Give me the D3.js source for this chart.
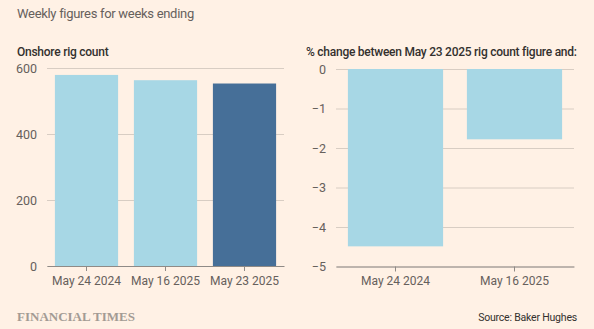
<!DOCTYPE html>
<html>
<head>
<meta charset="utf-8">
<script src="https://d3js.org/d3.v7.min.js"></script>
<style>
  body { margin: 0; background: #fff1e5; }
  svg { display: block; font-family: Roboto, sans-serif; }
</style>
</head>
<body>
<div id="chart"></div>
<script>
// Onshore rig count, weekly figures
const weeks = ["May 24 2024", "May 16 2025", "May 23 2025"];
const rigCounts = [579, 563, 553];
const countTicks = [0, 200, 400, 600];

// % change versus the latest week
const changeWeeks = ["May 24 2024", "May 16 2025"];
const pctChange = [-4.49, -1.78];
const changeTicks = [0, -1, -2, -3, -4, -5];

const W = 594, H = 329;
const lightBlue = "#a7d7e5", darkBlue = "#466f98";
const gridCol = "#d8cdc3", axisCol = "#8f8a86", textCol = "#66605c";

const svg = d3.select("#chart").append("svg")
  .attr("width", W).attr("height", H);

svg.append("rect").attr("width", W).attr("height", H).attr("fill", "#fff1e5");

svg.append("text")
  .attr("x", 17).attr("y", 18)
  .attr("font-size", 13).attr("letter-spacing", -0.3).attr("fill", textCol)
  .text("Weekly figures for weeks ending");

function styleTicks(g, size) {
  g.selectAll(".tick text")
    .attr("fill", textCol)
    .attr("font-size", size)
    .attr("font-family", "Roboto, sans-serif");
}

// Left panel: rig count
const left = { x0: 47, x1: 284, y0: 266, y1: 68 };

svg.append("text")
  .attr("x", 17).attr("y", 56)
  .attr("font-size", 12).attr("font-weight", 500).attr("letter-spacing", -0.25)
  .attr("fill", "#33302e")
  .text("Onshore rig count");

const xL = d3.scaleBand().domain(weeks).range([left.x0, left.x1])
  .paddingInner(0.2).paddingOuter(0.1);
const yL = d3.scaleLinear().domain([0, 600]).range([left.y0, left.y1]);

const gL = svg.append("g");

gL.append("g")
  .attr("transform", `translate(${left.x0},0)`)
  .call(d3.axisLeft(yL).tickValues(countTicks).tickSize(-(left.x1 - left.x0)).tickPadding(10))
  .call(g => g.select(".domain").remove())
  .call(g => g.selectAll(".tick line").attr("stroke", gridCol))
  .call(g => styleTicks(g, 12.5));

gL.selectAll(".bar")
  .data(rigCounts)
  .enter().append("rect")
  .attr("class", "bar")
  .attr("x", (d, i) => xL(weeks[i]))
  .attr("width", xL.bandwidth())
  .attr("y", d => yL(d))
  .attr("height", d => yL(0) - yL(d))
  .attr("fill", (d, i) => i === weeks.length - 1 ? darkBlue : lightBlue);

gL.append("g")
  .attr("transform", `translate(0,${left.y0})`)
  .call(d3.axisBottom(xL).tickSize(5).tickPadding(5).tickSizeOuter(0))
  .call(g => g.select(".domain").attr("stroke", axisCol).attr("stroke-width", 1.2))
  .call(g => g.selectAll(".tick line").attr("stroke", axisCol))
  .call(g => styleTicks(g, 12));

// Right panel: % change
const right = { x0: 336, x1: 574, y0: 69, y1: 266.5 };

svg.append("text")
  .attr("x", 306).attr("y", 56)
  .attr("font-size", 12).attr("font-weight", 500).attr("letter-spacing", -0.25)
  .attr("fill", "#33302e")
  .text("% change between May 23 2025 rig count figure and:");

const xR = d3.scaleBand().domain(changeWeeks).range([right.x0, right.x1])
  .paddingInner(0.2).paddingOuter(0.1);
const yR = d3.scaleLinear().domain([0, -5]).range([right.y0, right.y1]);

const gR = svg.append("g");

gR.append("g")
  .attr("transform", `translate(${right.x0},0)`)
  .call(d3.axisLeft(yR).tickValues(changeTicks).tickSize(-(right.x1 - right.x0)).tickPadding(10)
    .tickFormat(d3.format("d")))
  .call(g => g.select(".domain").remove())
  .call(g => g.selectAll(".tick line").attr("stroke", gridCol))
  .call(g => styleTicks(g, 12.5));

gR.selectAll(".bar")
  .data(pctChange)
  .enter().append("rect")
  .attr("class", "bar")
  .attr("x", (d, i) => xR(changeWeeks[i]))
  .attr("width", xR.bandwidth())
  .attr("y", yR(0))
  .attr("height", d => yR(d) - yR(0))
  .attr("fill", lightBlue);

gR.append("g")
  .attr("transform", `translate(0,${right.y1})`)
  .call(d3.axisBottom(xR).tickSize(5).tickPadding(5).tickSizeOuter(0))
  .call(g => g.select(".domain").attr("stroke", axisCol).attr("stroke-width", 1.2))
  .call(g => g.selectAll(".tick line").attr("stroke", axisCol))
  .call(g => styleTicks(g, 12));

// Footer
svg.append("text")
  .attr("x", 17).attr("y", 321)
  .attr("font-family", "Liberation Serif, serif").attr("font-size", 13)
  .attr("font-weight", "bold").attr("fill", "#a39b94")
  .text("FINANCIAL TIMES");

svg.append("text")
  .attr("x", 577).attr("y", 321).attr("text-anchor", "end")
  .attr("font-size", 10.5).attr("letter-spacing", -0.2).attr("fill", "#33302e")
  .text("Source: Baker Hughes");
</script>
</body>
</html>
